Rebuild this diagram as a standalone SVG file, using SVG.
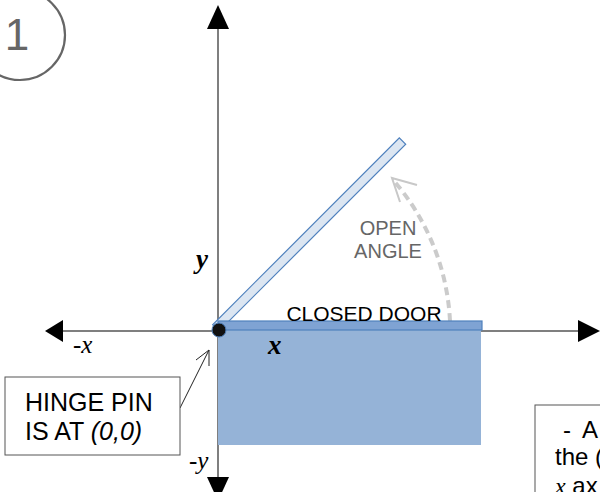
<svg xmlns="http://www.w3.org/2000/svg" width="600" height="492" viewBox="0 0 600 492">
<style>
.sans{font-family:"Liberation Sans",Arial,sans-serif;}
.ser{font-family:"Liberation Serif","Times New Roman",serif;font-style:italic;}
.axis{stroke:#555;stroke-width:1.5;fill:none;}
.head{fill:#000;}
.box{fill:#fff;stroke:#555;stroke-width:1;}
</style>
<rect width="600" height="492" fill="#fff"/>
<g id="badge">
<circle cx="20" cy="35" r="45" fill="none" stroke="#666" stroke-width="2.2"/>
<text x="17" y="50" class="sans" font-size="44" fill="#666" text-anchor="middle">1</text>
</g>
<g id="connectors">
<line class="axis" x1="218" y1="26" x2="218" y2="478"/>
<polygon class="head" points="218,5 207,29 229,29"/>
<polygon class="head" points="218,501 207,477 229,477"/>
<line class="axis" x1="60" y1="331" x2="580" y2="331" stroke="#333"/>
<polygon class="head" points="45,331 63,320 63,342"/>
<polygon class="head" points="600,331 578,320 578,342"/>
<path d="M450,321 A232,232 0 0 0 394,181" fill="none" stroke="#cbcbcb" stroke-width="4" stroke-dasharray="8,5"/>
<polyline points="417,185 392,178 400,202" fill="none" stroke="#c8c8c8" stroke-width="2"/>
<line x1="180" y1="408" x2="209" y2="350" stroke="#222" stroke-width="1"/>
<polyline points="196,360 209,350 209,366" fill="none" stroke="#222" stroke-width="1"/>
</g>
<g id="swept-area">
<rect x="218" y="330" width="263" height="115" fill="#95b3d7"/>
</g>
<g id="open-door">
<rect x="0" y="-9" width="264" height="9" transform="translate(219,331) rotate(-45)" fill="#dce6f2" stroke="#4f81bd" stroke-width="1.2"/>
</g>
<g id="closed-door">
<rect x="218" y="321" width="264" height="9" fill="#7fa3d3" stroke="#4f81bd" stroke-width="1.2"/>
<text x="364" y="321" class="sans" font-size="21" fill="#000" text-anchor="middle">CLOSED DOOR</text>
</g>
<g id="hinge">
<circle cx="219" cy="330" r="7" fill="#111" stroke="#4f81bd" stroke-width="1"/>
</g>
<g id="angle-label">
<text x="388" y="235" class="sans" font-size="20" fill="#666" text-anchor="middle">OPEN</text>
<text x="388" y="258" class="sans" font-size="20" fill="#666" text-anchor="middle">ANGLE</text>
</g>
<g id="axis-labels">
<text x="196" y="268" class="ser" font-size="27" font-weight="bold">y</text>
<text x="268" y="354" class="ser" font-size="27" font-weight="bold">x</text>
<text x="73" y="353" class="ser" font-size="25">-x</text>
<text x="189" y="469" class="ser" font-size="25">-y</text>
</g>
<g id="hinge-note">
<rect class="box" x="5" y="377" width="175" height="78"/>
<text x="25" y="411" class="sans" font-size="25" fill="#000">HINGE PIN</text>
<text x="25" y="440" class="sans" font-size="25" fill="#000">IS AT <tspan font-style="italic">(0,0)</tspan></text>
</g>
<g id="angle-note">
<rect class="box" x="535" y="405" width="80" height="100"/>
<text x="563" y="438" class="sans" font-size="24" fill="#000">-<tspan x="582">A</tspan></text>
<text x="555" y="465" class="sans" font-size="24" fill="#000">the (</text>
<text x="555" y="494" class="sans" font-size="24" fill="#000"><tspan class="ser">x</tspan> ax</text>
</g>
</svg>
